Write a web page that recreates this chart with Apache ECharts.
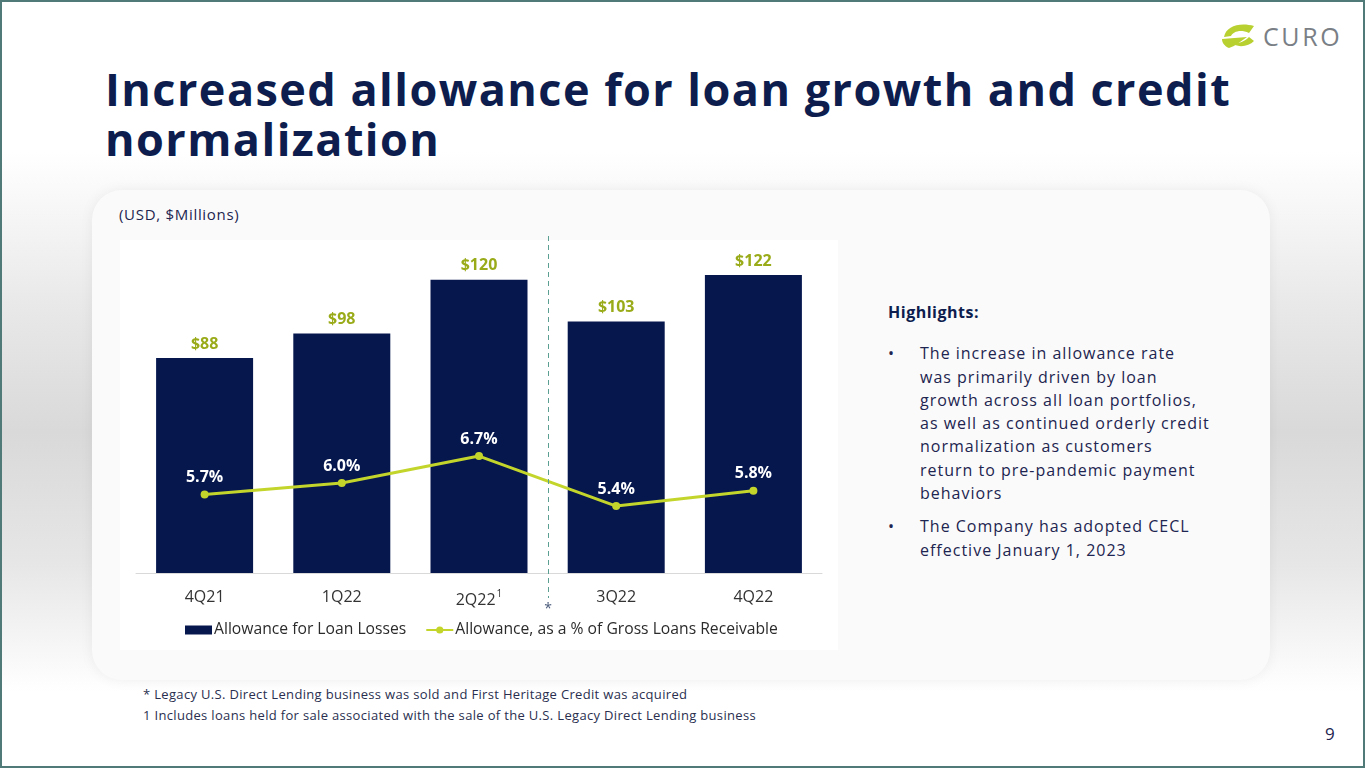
<!DOCTYPE html>
<html>
<head>
<meta charset="utf-8">
<script src="https://cdn.jsdelivr.net/npm/echarts@6/dist/echarts.min.js"></script>
<style>
html,body{margin:0;padding:0;width:1365px;height:768px;overflow:hidden;font-family:"Open Sans","Noto Sans",sans-serif;}
#page{position:absolute;left:0;top:0;width:1365px;height:768px;box-sizing:border-box;border:2px solid #4f7a78;
 background:linear-gradient(to bottom,#ffffff 0px,#ffffff 150px,#e9e9e9 300px,#d9d9d9 430px,#e6e6e6 560px,#ffffff 690px,#ffffff 768px);}
#card{position:absolute;left:92px;top:190px;width:1178px;height:490px;border-radius:30px;background:#fafafa;box-shadow:0 0 14px rgba(0,0,0,0.06);}
#plotbg{position:absolute;left:120px;top:240px;width:718px;height:410px;background:#ffffff;}
#title{position:absolute;left:105px;top:64px;font-family:"Open Sans",sans-serif;font-weight:700;font-size:45px;line-height:50px;color:#0d1d4e;letter-spacing:1.45px;white-space:nowrap;}
#unit{position:absolute;left:119px;top:204px;font-size:15px;letter-spacing:0.7px;color:#1d2550;}
#hl{position:absolute;left:888px;top:301px;width:400px;color:#1d2550;font-size:16px;line-height:23.3px;letter-spacing:1px;white-space:nowrap;}
#hl .h{font-weight:700;color:#0d1d4e;margin-bottom:18px;letter-spacing:0.5px;}
#hl .b{position:relative;padding-left:32px;margin-bottom:10px;}
#hl .b:before{content:"•";position:absolute;left:0;top:0;}
#fn{position:absolute;left:143px;top:684px;font-size:13px;line-height:21px;color:#2a2f50;letter-spacing:0.33px;}
#pg{position:absolute;left:1325px;top:722px;font-size:17px;color:#1d2550;}
#logo{position:absolute;left:1220px;top:20px;}
#chart{position:absolute;left:0;top:0;width:1365px;height:768px;}
</style>
</head>
<body>
<div id="page"></div>
<div id="card"></div>
<div id="plotbg"></div>
<div id="title">Increased allowance for loan growth and credit<br>normalization</div>
<div id="unit">(USD, $Millions)</div>
<div id="hl">
 <div class="h">Highlights:</div>
 <div class="b">The increase in allowance rate<br>was primarily driven by loan<br>growth across all loan portfolios,<br>as well as continued orderly credit<br>normalization as customers<br>return to pre-pandemic payment<br>behaviors</div>
 <div class="b">The Company has adopted CECL<br>effective January 1, 2023</div>
</div>
<div id="fn">* Legacy U.S. Direct Lending business was sold and First Heritage Credit was acquired<br>1 Includes loans held for sale associated with the sale of the U.S. Legacy Direct Lending business</div>
<div id="pg">9</div>
<div id="logo">
<svg width="124" height="34" viewBox="0 0 124 34">
 <path d="M4 17 C6 6 20 2 34 6 L29 13 C20 9 13 12 11 16 Z" fill="#b9d031"/>
 <path d="M2 19 L27 17 C20 22 15 26 9 28 C4 26 2 22 2 19 Z" fill="#b9d031"/>
 <path d="M13 24 C20 28 29 26 34 21 L29 17 C25 21 20 23 13 24 Z" fill="#b9d031"/>
 <text x="43" y="26" font-family="Open Sans, sans-serif" font-size="25" fill="#7a7f86" letter-spacing="2.6">CURO</text>
</svg>
</div>
<div id="chart"></div>
<script>
var categories = ['4Q21','1Q22','2Q22','3Q22','4Q22'];
var allowance = [88, 98, 120, 103, 122];
var allowancePct = [5.7, 6.0, 6.7, 5.4, 5.8];
var seriesNames = ['Allowance for Loan Losses','Allowance, as a % of Gross Loans Receivable'];

var chart = echarts.init(document.getElementById('chart'), null, {renderer:'canvas'});
var navy = '#06174e', lime = '#c3d52b', olive = '#9aab19';
chart.setOption({
  backgroundColor: 'transparent',
  animation: false,
  textStyle: {fontFamily: '"Open Sans","Noto Sans",sans-serif'},
  grid: {left:136, right:543, top:231, bottom:195},
  legend: {
    left: 180, top: 617, itemGap: 19, itemWidth: 27, itemHeight: 9,
    textStyle: {color:'#2b2b2b', fontSize:15.7, padding:[0,0,0,-3]},
    data: [
      {name: seriesNames[0], icon:'rect'},
      {name: seriesNames[1]}
    ]
  },
  xAxis: {
    type:'category', data: categories,
    axisLine:{show:true, lineStyle:{color:'#d9d9d9', width:1}},
    axisTick:{show:false},
    axisLabel:{color:'#333333', fontSize:16, margin:16,
      formatter: function(v){ return v === '2Q22' ? v + '{s|1}' : v; },
      rich:{s:{fontSize:10, verticalAlign:'top', padding:[0,0,12,1], color:'#333333'}}
    }
  },
  yAxis: [
    {type:'value', min:0, max:140, show:false, splitLine:{show:false}},
    {type:'value', min:3.66, max:12.55, show:false, splitLine:{show:false}}
  ],
  series: [
    {
      name: seriesNames[0], type:'bar', data: allowance, barWidth:97,
      itemStyle:{color:navy},
      label:{show:true, position:'top', distance:6, color:olive, fontWeight:700, fontSize:16,
        formatter: function(p){ return '$' + p.value; }},
      markLine: {
        silent:true, symbol:['none','none'],
        lineStyle:{color:'#5a9f92', type:[5,4], width:1},
        label:{show:true, position:'end', formatter:'*', color:'#4a5a7a', fontSize:14, distance:4},
        data:[[{x:548, y:236},{x:548, y:598}]]
      }
    },
    {
      name: seriesNames[1], type:'line', yAxisIndex:1, data: allowancePct,
      symbol:'circle', symbolSize:8, lineStyle:{color:lime, width:3}, itemStyle:{color:lime},
      label:{show:true, position:'top', distance:5, color:'#ffffff', fontWeight:700, fontSize:16,
        formatter: function(p){ return p.value.toFixed(1) + '%'; }}
    }
  ]
});
</script>
</body>
</html>
